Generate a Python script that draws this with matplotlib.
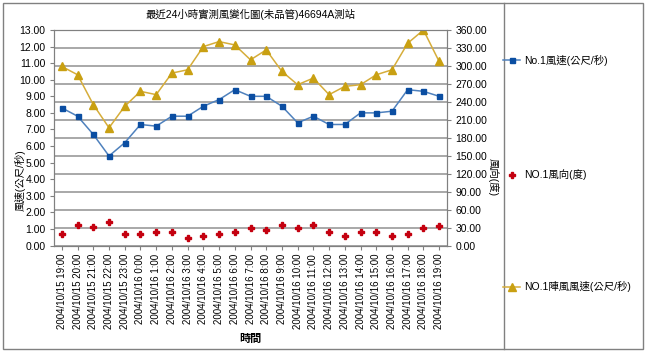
import matplotlib
matplotlib.use("Agg")
import matplotlib.pyplot as plt
from matplotlib.lines import Line2D
from matplotlib.patches import Rectangle

plt.rcParams['font.family'] = ['Liberation Sans', 'Noto Sans CJK TC', 'DejaVu Sans']

times = ["2004/10/15 19:00", "2004/10/15 20:00", "2004/10/15 21:00", "2004/10/15 22:00",
         "2004/10/15 23:00", "2004/10/16 0:00", "2004/10/16 1:00", "2004/10/16 2:00",
         "2004/10/16 3:00", "2004/10/16 4:00", "2004/10/16 5:00", "2004/10/16 6:00",
         "2004/10/16 7:00", "2004/10/16 8:00", "2004/10/16 9:00", "2004/10/16 10:00",
         "2004/10/16 11:00", "2004/10/16 12:00", "2004/10/16 13:00", "2004/10/16 14:00",
         "2004/10/16 15:00", "2004/10/16 16:00", "2004/10/16 17:00", "2004/10/16 18:00",
         "2004/10/16 19:00"]
wind_speed = [8.3, 7.8, 6.7, 5.4, 6.2, 7.3, 7.2, 7.8, 7.8, 8.4, 8.8, 9.4, 9.0,
              9.0, 8.4, 7.4, 7.8, 7.3, 7.3, 8.0, 8.0, 8.1, 9.4, 9.3, 9.0]
gust_speed = [10.8, 10.3, 8.5, 7.1, 8.4, 9.3, 9.1, 10.4, 10.6, 12.0, 12.3, 12.1, 11.2,
              11.8, 10.5, 9.7, 10.1, 9.1, 9.6, 9.7, 10.3, 10.6, 12.2, 13.0, 11.1]
wind_dir = [19, 34, 31, 39, 19, 19, 22, 23, 12, 16, 20, 22, 29,
            26, 34, 30, 34, 23, 16, 22, 23, 16, 19, 30, 33]
left_ticks = [i for i in range(14)]
right_ticks = [i * 30 for i in range(13)]

W, H = 645, 352
fig = plt.figure(figsize=(W / 100, H / 100), dpi=100)
ax = fig.add_axes([54 / W, 1 - 245.5 / H, (447 - 54) / W, (245.5 - 30) / H])
ax2 = ax.twinx()
ax.set_zorder(ax2.get_zorder() + 1)
ax.patch.set_visible(False)

x = list(range(len(times)))
gray = '#808080'

l1, = ax.plot(x, wind_speed, color='#4f81bd', lw=1.1, marker='s', ms=3.6,
              mfc='#0b4ea2', mec='#0b4ea2', label='No.1風速(公尺/秒)')
l3, = ax.plot(x, gust_speed, color='#d6ad3a', lw=1.1, marker='^', ms=5.5,
              mfc='#c9a012', mec='#c9a012', label='NO.1陣風風速(公尺/秒)')
l2, = ax2.plot(x, wind_dir, ls='none', marker='P', ms=4.3, mfc='#c4000f', mec='#c4000f',
               label='NO.1風向(度)')

ax.set_xlim(-0.5, len(times) - 0.5)
ax.set_ylim(0, 13)
ax2.set_ylim(0, 360)
ax.set_yticks(left_ticks)
ax.set_yticklabels([f"{v:.2f}" for v in left_ticks])
ax2.set_yticks(right_ticks)
ax2.set_yticklabels([f"{v:.2f}" for v in right_ticks])
ax.set_xticks(x)
ax.set_xticklabels(times, rotation=90, fontsize=7)

ax2.grid(True, axis='y', color='#a8a8a8', lw=1.4)
ax2.set_axisbelow(True)

for a in (ax, ax2):
    for s in a.spines.values():
        s.set_color(gray)
        s.set_linewidth(0.8)
ax.tick_params(axis='y', direction='out', length=3, color=gray, labelsize=7.5, pad=3)
ax2.tick_params(axis='y', direction='out', length=3, color=gray, labelsize=7.5, pad=3)
ax.tick_params(axis='x', direction='out', length=3, color=gray, pad=3)

ax.set_title('最近24小時實測風變化圖(未品管)46694A測站', fontsize=7.5, pad=9)
ax.set_xlabel('時間', fontsize=8, fontweight='bold', labelpad=3)
fig.text(20 / W, 1 - 180 / H, '風速(公尺/秒)', rotation=90, fontsize=7.5, ha='center', va='center')
fig.text(493 / W, 1 - 177 / H, '風向(度)', rotation=-90, fontsize=7.5, ha='center', va='center')

# legend entries
for h, yy in ((l1, 60), (l2, 175), (l3, 287)):
    fig.legend(handles=[h], loc='center left', bbox_to_anchor=(503 / W, 1 - yy / H),
               frameon=False, borderpad=0, borderaxespad=0, handlelength=1.65,
               handletextpad=0.35, fontsize=7.5)

# outer border and legend separator
fig.patches.append(Rectangle((3 / W, 1 - 349 / H), 640 / W, 346 / H, transform=fig.transFigure,
                             fill=False, edgecolor=gray, lw=1))
fig.lines.append(Line2D([504 / W, 504 / W], [1 - 349 / H, 1 - 3 / H], transform=fig.transFigure,
                        color=gray, lw=1))

fig.savefig('out.png', dpi=100)
